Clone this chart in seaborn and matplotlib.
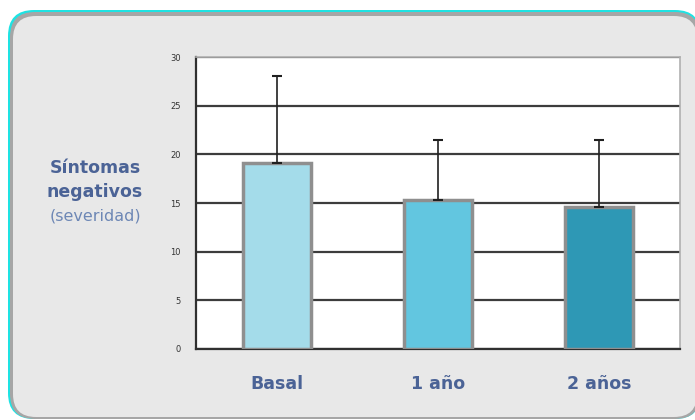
import numpy as np
import pandas as pd
import matplotlib
matplotlib.use("Agg")
import matplotlib.pyplot as plt
import seaborn as sns
from matplotlib.patches import FancyBboxPatch

# data
categories = ["Basal", "1 año", "2 años"]
means = [19.1, 15.3, 14.6]
sd_up = [8.9, 6.2, 6.9]
bar_colors = ["#a4dcea", "#62c6e0", "#2e98b5"]
yticks = [0, 5, 10, 15, 20, 25, 30]

df = pd.DataFrame({"tiempo": categories, "valor": means})

sns.set_style("white")
plt.rcParams["font.family"] = ["DejaVu Sans"]

fig = plt.figure(figsize=(6.95, 4.2), dpi=100)
fig.patch.set_facecolor("white")

# background panel, drawn in pixel coordinates
bg = fig.add_axes([0, 0, 1, 1], zorder=0)
bg.set_xlim(0, 695)
bg.set_ylim(420, 0)
bg.axis("off")
bg.add_patch(FancyBboxPatch((8, 10), 693, 409, boxstyle="round,pad=0,rounding_size=26",
                            fc="#1ee3e3", ec="none"))
bg.add_patch(FancyBboxPatch((10, 12), 690, 407, boxstyle="round,pad=0,rounding_size=25",
                            fc="#a6a6a6", ec="none"))
bg.add_patch(FancyBboxPatch((13, 16), 684, 401, boxstyle="round,pad=0,rounding_size=23",
                            fc="#e8e8e8", ec="none"))
bg.text(95, 168, "Síntomas", ha="center", va="center", fontsize=12.5,
        fontweight="bold", color="#4b6396")
bg.text(95, 192, "negativos", ha="center", va="center", fontsize=12.5,
        fontweight="bold", color="#4b6396")
bg.text(95, 216, "(severidad)", ha="center", va="center", fontsize=11.5,
        color="#6d87b5")

ax = fig.add_axes([196 / 695, 1 - 349 / 420, (680 - 196) / 695, (349 - 57) / 420], zorder=1)
ax.set_facecolor("white")

sns.barplot(data=df, x="tiempo", y="valor", hue="tiempo", palette=bar_colors,
            saturation=1, width=0.42, edgecolor="#8f8f8f", linewidth=2.5,
            legend=False, ax=ax, zorder=3)
xpos = np.arange(len(categories))
ax.errorbar(xpos, means, yerr=[np.zeros(len(means)), sd_up], fmt="none",
            ecolor="#202020", elinewidth=1.2, capsize=3.5, capthick=1.5, zorder=4)

ax.set_xlim(-0.5, 2.5)
ax.set_ylim(0, 30)
ax.set_yticks(yticks)
ax.yaxis.grid(True, color="#3c3c3c", linewidth=1.6, zorder=0)
ax.set_axisbelow(True)
ax.set_xlabel("")
ax.set_ylabel("")

ax.set_xticks([-0.5, 0.5, 1.5, 2.5])
ax.set_xticklabels([])
ax.tick_params(axis="x", direction="out", length=4, width=1.2, color="#202020")
ax.tick_params(axis="y", direction="out", length=6, width=1.2, color="#202020",
               labelsize=6, labelcolor="#333333", pad=5)
for i, c in enumerate(categories):
    ax.text(i, -3.6, c, ha="center", va="center", fontsize=12.5, fontweight="bold",
            color="#4b6396")

for s in ["left", "bottom"]:
    ax.spines[s].set_color("#303030")
    ax.spines[s].set_linewidth(1.6)
for s in ["top", "right"]:
    ax.spines[s].set_color("#b0b0b0")
    ax.spines[s].set_linewidth(1.2)
    ax.spines[s].set_visible(True)

fig.savefig("out.png", dpi=100)
